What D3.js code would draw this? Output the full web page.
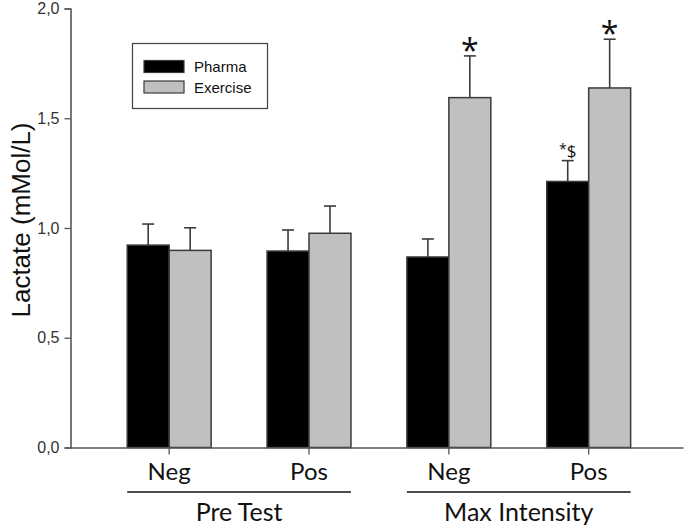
<!DOCTYPE html>
<html><head><meta charset="utf-8">
<script src="https://cdn.jsdelivr.net/npm/d3@7"></script>
<style>body{margin:0;background:#fff}</style>
</head><body>
<svg id="c" width="685" height="527"></svg>
<script>
const categories = ["PreNeg","PrePos","MaxNeg","MaxPos"];
const catLabels = ["Neg","Pos","Neg","Pos"];
const groupNames = ["Pre Test","Max Intensity"];
const groupMembers = [["PreNeg","PrePos"],["MaxNeg","MaxPos"]];
const seriesNames = ["Pharma","Exercise"];
const pharma = [0.922, 0.895, 0.868, 1.212];
const pharmaErr = [0.096, 0.096, 0.082, 0.095];
const exercise = [0.898, 0.976, 1.594, 1.638];
const exerciseErr = [0.103, 0.124, 0.19, 0.222];
const pharmaMarks = ["","","","*$"];
const exerciseMarks = ["","","*","*"];
const yTicks = [0,0.5,1.0,1.5,2.0];

(function(){
const svg = d3.select("#c");
const mLeft = 70.5, mRight = 683, mTop = 8.5, mBottom = 447.5;
const y = d3.scaleLinear().domain([0,2]).range([mBottom, mTop]);
const x = d3.scaleBand().domain(categories).range([mLeft, mRight]).paddingInner(0.4).paddingOuter(0.39).align(0.52);
const xs = d3.scaleBand().domain(seriesNames).range([0, x.bandwidth()]);
const colors = {Pharma:"#000000", Exercise:"#c0c0c0"};
const stroke = "#3a3a3a";

const data = categories.map((c,i)=>({c, vals:[
  {s:"Pharma", v:pharma[i], e:pharmaErr[i], m:pharmaMarks[i]},
  {s:"Exercise", v:exercise[i], e:exerciseErr[i], m:exerciseMarks[i]}]}));

const g = svg.selectAll("g.cat").data(data).join("g").attr("class","cat")
  .attr("transform", d=>`translate(${x(d.c)},0)`);
g.selectAll("line.err").data(d=>d.vals).join("line").attr("class","err")
  .attr("x1", d=>xs(d.s)+xs.bandwidth()/2).attr("x2", d=>xs(d.s)+xs.bandwidth()/2)
  .attr("y1", d=>y(d.v)).attr("y2", d=>y(d.v+d.e))
  .attr("stroke", stroke).attr("stroke-width",1.6);
g.selectAll("line.cap").data(d=>d.vals).join("line").attr("class","cap")
  .attr("x1", d=>xs(d.s)+xs.bandwidth()/2-6).attr("x2", d=>xs(d.s)+xs.bandwidth()/2+6)
  .attr("y1", d=>y(d.v+d.e)).attr("y2", d=>y(d.v+d.e))
  .attr("stroke", stroke).attr("stroke-width",1.6);
g.selectAll("rect.bar").data(d=>d.vals).join("rect").attr("class","bar")
  .attr("x", d=>xs(d.s)).attr("width", xs.bandwidth())
  .attr("y", d=>y(d.v)).attr("height", d=>y(0)-y(d.v))
  .attr("fill", d=>colors[d.s]).attr("stroke", stroke).attr("stroke-width",1.5);
g.selectAll("text.mark").data(d=>d.vals.filter(v=>v.m)).join("text").attr("class","mark")
  .attr("x", d=>xs(d.s)+xs.bandwidth()/2)
  .attr("y", d=> d.m==="*" ? y(d.v+d.e)+6 : y(d.v+d.e)-4)
  .attr("text-anchor","middle")
  .attr("font-family", "'Open Sans', sans-serif")
  .attr("font-size", d=> d.m==="*" ? 32 : 17)
  .attr("fill","#111")
  .each(function(d){
    const t = d3.select(this);
    if (d.m === "*$") {
      t.append("tspan").text("*").attr("font-size",14).attr("dy",-3);
      t.append("tspan").text("$").attr("dy",3);
    } else t.text(d.m);
  });

const yAxis = d3.axisLeft(y).tickValues(yTicks).tickSize(6).tickPadding(5)
  .tickFormat(d=>d3.format(".1f")(d).replace(".",","));
const ya = svg.append("g").attr("transform",`translate(${mLeft},0)`).call(yAxis);
ya.select(".domain").attr("stroke","#555").attr("stroke-width",1.6);
ya.selectAll(".tick line").attr("stroke","#555").attr("stroke-width",1.3);
ya.selectAll(".tick text").attr("font-family","'Liberation Sans', Arial, sans-serif").attr("font-size",16).attr("fill","#333");

const xAxis = d3.axisBottom(x).tickSize(7).tickSizeOuter(0).tickPadding(8)
  .tickFormat((d,i)=>catLabels[i]);
const xa = svg.append("g").attr("transform",`translate(0,${mBottom})`).call(xAxis);
xa.select(".domain").attr("stroke","#555").attr("stroke-width",1.6);
xa.selectAll(".tick line").attr("stroke","#555").attr("stroke-width",1.3);
xa.selectAll(".tick text").attr("font-family","Lato, 'Open Sans', sans-serif").attr("font-size",24).attr("fill","#111");

groupMembers.forEach((mem,i)=>{
  const x0 = x(mem[0]), x1 = x(mem[mem.length-1]) + x.bandwidth();
  svg.append("line").attr("x1",x0).attr("x2",x1).attr("y1",492).attr("y2",492)
    .attr("stroke","#111").attr("stroke-width",1.6);
  svg.append("text").attr("x",(x0+x1)/2).attr("y",521).attr("text-anchor","middle")
    .attr("font-family","Lato, 'Open Sans', sans-serif").attr("font-size",25).attr("fill","#111")
    .text(groupNames[i]);
});

svg.append("text").attr("transform","translate(30,220) rotate(-90)")
  .attr("text-anchor","middle").attr("font-family","'Liberation Sans', Arial, sans-serif")
  .attr("font-size",26).attr("fill","#111").text("Lactate (mMol/L)");

const lg = svg.append("g");
lg.append("rect").attr("x",132.5).attr("y",43.5).attr("width",135).attr("height",65)
  .attr("fill","#fff").attr("stroke","#444").attr("stroke-width",1.2);
seriesNames.forEach((s,i)=>{
  lg.append("rect").attr("x",144).attr("y",60.5+i*20.5).attr("width",40).attr("height",12)
    .attr("fill",colors[s]).attr("stroke",stroke).attr("stroke-width",1.2);
  lg.append("text").attr("x",194).attr("y",72+i*20.5).attr("font-family","'Liberation Sans', Arial, sans-serif")
    .attr("font-size",15).attr("fill","#111").text(s);
});
})();
</script>
</body></html>
